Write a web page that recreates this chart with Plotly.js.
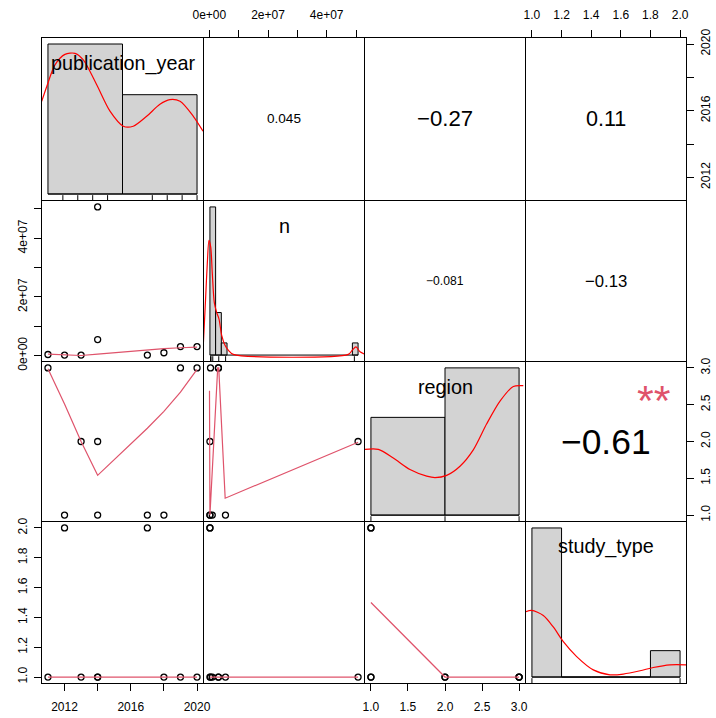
<!DOCTYPE html>
<html><head><meta charset="utf-8">
<script src="https://cdn.plot.ly/plotly-3.0.1.min.js"></script>
<style>html,body{margin:0;padding:0;background:#fff;} #chart{width:716px;height:718px;}</style>
</head><body><div id="chart"></div>
<script>
// ---------------- data ----------------
const varNames = ["publication_year", "n", "region", "study_type"];
const publicationYear = [2011, 2012, 2013, 2014, 2014, 2017, 2018, 2019, 2020];
const nValues = [0.4e6, 0.2e6, 0.2e6, 5.07e7, 5.5e6, 0.2e6, 1.0e6, 3.1e6, 3.1e6];
const regionValues = [3, 1, 2, 2, 1, 1, 1, 3, 3];
const studyValues = [1, 2, 1, 1, 1, 2, 1, 1, 1];

// correlations (upper panels)
const corRow = [0, 0, 0, 1, 1, 2];
const corCol = [1, 2, 3, 2, 3, 3];
const corValue = [0.045, -0.27, 0.11, -0.081, -0.13, -0.61];
const corLabel = ["0.045", "\u22120.27", "0.11", "\u22120.081", "\u22120.13", "\u22120.61"];
const corStars = ["", "", "", "", "", "**"];

// histograms (relative density heights)
const yearBinLo = [2010, 2015], yearBinHi = [2015, 2020], yearHist = [1.0, 0.662];
const nBinLo = [0, 2e6, 4e6, 5e7], nBinHi = [2e6, 4e6, 6e6, 5.2e7], nHist = [1.0, 0.287, 0.082, 0.082];
const regionBinLo = [1, 2], regionBinHi = [2, 3], regionHist = [0.664, 1.0];
const studyBinLo = [1.0, 1.2, 1.4, 1.6, 1.8], studyBinHi = [1.2, 1.4, 1.6, 1.8, 2.0], studyHist = [1.0, 0, 0, 0, 0.177];

// density curves (same relative units)
const yearDensX = [2009.58, 2009.92, 2010.47, 2011.14, 2011.81, 2012.37, 2013.27, 2014.16, 2015.05, 2015.72, 2016.62, 2017.51, 2018.18, 2018.86, 2019.75, 2020.4];
const yearDensY = [0.618, 0.717, 0.861, 0.931, 0.938, 0.894, 0.728, 0.552, 0.452, 0.452, 0.518, 0.598, 0.629, 0.618, 0.518, 0.419];
const nDensX = [-2.33e6, -1.48e6, -0.92e6, -0.33e6, 0.27e6, 0.83e6, 1.54e6, 2.38e6, 3.19e6, 4.13e6, 5.29e6, 6.45e6, 8.2e6, 4.857e7, 4.997e7, 5.127e7, 5.268e7, 5.443e7];
const nDensY = [0.066, 0.398, 0.619, 0.774, 0.73, 0.553, 0.354, 0.287, 0.243, 0.133, 0.066, 0.033, 0.005, 0.005, 0.033, 0.055, 0.022, 0.005];
const regionDensX = [0.92, 1.10, 1.302, 1.527, 1.753, 1.865, 2.023, 2.2025, 2.382, 2.563, 2.7425, 2.922, 3.057];
const regionDensY = [0.447, 0.447, 0.388, 0.31, 0.265, 0.255, 0.27, 0.332, 0.443, 0.62, 0.774, 0.874, 0.879];
const studyDensX = [0.953, 0.998, 1.077, 1.144, 1.212, 1.302, 1.414, 1.527, 1.617, 1.73, 1.819, 1.932, 2.045];
const studyDensY = [0.436, 0.447, 0.413, 0.336, 0.237, 0.137, 0.048, 0.015, 0.02, 0.042, 0.064, 0.082, 0.082];

// smoother lines in lower panels
const smNYearX = [2011, 2012, 2013, 2014, 2017, 2018, 2019, 2020];
const smNYearY = [0.5e6, 0.3e6, 0.05e6, 0.5e6, 2.0e6, 2.4e6, 2.7e6, 2.9e6];
const smRegionYearX = [2011, 2012, 2013, 2014, 2017, 2018, 2019, 2020];
const smRegionYearY = [2.99, 2.51, 2.0, 1.54, 2.18, 2.41, 2.67, 2.98];
const smStudyYearX = [2011, 2012, 2013, 2014, 2017, 2018, 2019, 2020];
const smStudyYearY = [1, 1, 1, 1, 1, 1, 1, 1];
const smRegionNX = [0.05e6, 0.2e6, 2.85e6, 3.2e6, 5.4e6, 5.07e7];
const smRegionNY = [2.69, 1.0, 3.0, 3.0, 1.23, 1.99];
const smStudyNX = [0.2e6, 1.0e6, 3.1e6, 5.5e6, 5.07e7];
const smStudyNY = [1, 1, 1, 1, 1];
const smStudyRegionX = [1, 2, 3];
const smStudyRegionY = [1.5, 1.0, 1.0];

// ticks
const yearTicks = [2012, 2014, 2016, 2018, 2020], yearTickText = ["2012", "", "2016", "", "2020"];
const nTicks = [0, 1e7, 2e7, 3e7, 4e7, 5e7], nTickText = ["0e+00", "", "2e+07", "", "4e+07", ""];
const regionTicks = [1, 1.5, 2, 2.5, 3], regionTickText = ["1.0", "1.5", "2.0", "2.5", "3.0"];
const studyTicks = [1, 1.2, 1.4, 1.6, 1.8, 2.0], studyTickText = ["1.0", "1.2", "1.4", "1.6", "1.8", "2.0"];

// ---------------- build ----------------
const FONT = "Liberation Sans, Arial, Helvetica, sans-serif";
const W = 716, H = 718;
const colPx = [[42, 203], [204, 364], [365, 525], [526, 686]];
const rowPx = [[38, 200], [201, 361], [362, 521], [522, 683]];
const xDom = c => [colPx[c][0] / W, colPx[c][1] / W];
const yDom = r => [1 - rowPx[r][1] / H, 1 - rowPx[r][0] / H];

const data = [publicationYear, nValues, regionValues, studyValues];
const ticks = [[yearTicks, yearTickText], [nTicks, nTickText], [regionTicks, regionTickText], [studyTicks, studyTickText]];
function ext(arr) { const lo = Math.min(...arr), hi = Math.max(...arr), d = (hi - lo) * 0.04; return [lo - d, hi + d]; }
const dataRange = data.map(ext);

const hists = [
  [yearBinLo, yearBinHi, yearHist, yearDensX, yearDensY],
  [nBinLo, nBinHi, nHist, nDensX, nDensY],
  [regionBinLo, regionBinHi, regionHist, regionDensX, regionDensY],
  [studyBinLo, studyBinHi, studyHist, studyDensX, studyDensY]
];
const smooth = {
  "1,0": [smNYearX, smNYearY], "2,0": [smRegionYearX, smRegionYearY], "3,0": [smStudyYearX, smStudyYearY],
  "2,1": [smRegionNX, smRegionNY], "3,1": [smStudyNX, smStudyNY], "3,2": [smStudyRegionX, smStudyRegionY]
};

const layout = {
  width: W, height: H, margin: {l: 0, r: 0, t: 0, b: 0},
  paper_bgcolor: "#fff", plot_bgcolor: "#fff", showlegend: false,
  barmode: "overlay", annotations: [], font: {family: FONT, color: "#000"}
};
const traces = [];

for (let r = 0; r < 4; r++) {
  for (let c = 0; c < 4; c++) {
    const k = r * 4 + c + 1;
    const xa = "xaxis" + (k === 1 ? "" : k), ya = "yaxis" + (k === 1 ? "" : k);
    const xr = "x" + (k === 1 ? "" : k), yr = "y" + (k === 1 ? "" : k);
    const base = {
      showgrid: false, zeroline: false, showline: true, mirror: true, linecolor: "#000", linewidth: 1,
      ticks: "", showticklabels: false, ticklen: 7, tickwidth: 1, tickcolor: "#000",
      tickfont: {family: FONT, size: 12, color: "#000"}, fixedrange: true
    };
    const xAxis = Object.assign({}, base, {domain: xDom(c), anchor: yr, ticklabelstandoff: 6});
    const yAxis = Object.assign({}, base, {domain: yDom(r), anchor: xr, tickangle: -90, ticklabelstandoff: 2});
    if (r === c) {
      const [lo, hi, hh, dx, dy] = hists[c];
      const b0 = lo[0], b1 = hi[hi.length - 1], d = (b1 - b0) * 0.04;
      const ymax = Math.max(...hh);
      xAxis.range = [b0 - d, b1 + d];
      yAxis.range = [-0.04 * ymax, 1.04 * ymax];
      traces.push({type: "bar", x: lo.map((v, i) => (v + hi[i]) / 2), y: hh, width: lo.map((v, i) => hi[i] - v),
        marker: {color: "#D3D3D3", line: {color: "#000", width: 1}}, xaxis: xr, yaxis: yr, hoverinfo: "skip"});
      traces.push({type: "scatter", mode: "lines", x: [b0, b1], y: [0, 0], line: {color: "#000", width: 1}, xaxis: xr, yaxis: yr});
      traces.push({type: "scatter", mode: "lines", x: dx, y: dy, line: {color: "#FF0000", width: 1.2, shape: "spline", smoothing: 0.8}, xaxis: xr, yaxis: yr});
      // rug
      const rx = [], ry = [];
      const yb = -0.04 * ymax, yt = yb + 0.03 * 1.08 * ymax;
      [...new Set(data[c])].forEach(v => { rx.push(v, v, null); ry.push(yb, yt, null); });
      traces.push({type: "scatter", mode: "lines", x: rx, y: ry, line: {color: "#000", width: 1}, xaxis: xr, yaxis: yr, cliponaxis: false});
      // label
      layout.annotations.push({xref: "paper", yref: "paper", x: (colPx[c][0] + colPx[c][1]) / 2 / W,
        y: 1 - (rowPx[r][0] + (rowPx[r][1] - rowPx[r][0]) * (1 - 0.845)) / H, text: varNames[c], showarrow: false,
        xanchor: "center", yanchor: "middle", font: {family: FONT, size: 19.8, color: "#000"}});
    } else {
      xAxis.range = dataRange[c];
      yAxis.range = dataRange[r];
      if (r > c) {
        traces.push({type: "scatter", mode: "markers", x: data[c], y: data[r], xaxis: xr, yaxis: yr,
          marker: {symbol: "circle-open", size: 6, color: "#000", line: {width: 1.3, color: "#000"}}});
        const s = smooth[r + "," + c];
        traces.push({type: "scatter", mode: "lines", x: s[0], y: s[1], xaxis: xr, yaxis: yr, line: {color: "#DF536B", width: 1.2}});
      } else {
        // empty upper panel: invisible trace so the box and axes are drawn
        traces.push({type: "scatter", mode: "markers", x: [null], y: [null], xaxis: xr, yaxis: yr, marker: {opacity: 0}});
      }
    }
    // outer axes
    if (r === 0 && c % 2 === 1) Object.assign(xAxis, {side: "top", ticks: "outside", showticklabels: true, tickvals: ticks[c][0], ticktext: ticks[c][1]});
    if (r === 3 && c % 2 === 0) Object.assign(xAxis, {side: "bottom", ticks: "outside", showticklabels: true, tickvals: ticks[c][0], ticktext: ticks[c][1]});
    if (c === 0 && r % 2 === 1) Object.assign(yAxis, {side: "left", ticks: "outside", showticklabels: true, tickvals: ticks[r][0], ticktext: ticks[r][1]});
    if (c === 3 && r % 2 === 0) Object.assign(yAxis, {side: "right", ticks: "outside", showticklabels: true, tickvals: ticks[r][0], ticktext: ticks[r][1]});
    layout[xa] = xAxis; layout[ya] = yAxis;
  }
}

// correlation texts
const ctx = document.createElement("canvas").getContext("2d");
function em(txt) { ctx.font = "100px " + FONT; return ctx.measureText(txt).width / 100; }
for (let i = 0; i < corValue.length; i++) {
  const r = corRow[i], c = corCol[i];
  const pw = colPx[c][1] - colPx[c][0], ph = rowPx[r][1] - rowPx[r][0];
  const full = 0.8 * pw / em(corLabel[i]);
  const size = full * (Math.abs(corValue[i]) + 0.3) / 1.3;
  layout.annotations.push({xref: "paper", yref: "paper", x: (colPx[c][0] + pw / 2) / W, y: 1 - (rowPx[r][0] + ph / 2) / H,
    text: corLabel[i], showarrow: false, xanchor: "center", yanchor: "middle", font: {family: FONT, size: size, color: "#000"}});
  if (corStars[i]) {
    layout.annotations.push({xref: "paper", yref: "paper", x: (colPx[c][0] + 0.8 * pw) / W, y: 1 - (rowPx[r][1] - 0.8 * ph) / H,
      text: corStars[i], showarrow: false, xanchor: "center", yanchor: "middle", yshift: -6,
      font: {family: FONT, size: full * 0.85, color: "#DF536B"}});
  }
}

Plotly.newPlot("chart", traces, layout, {staticPlot: true, displayModeBar: false});
</script></body></html>
